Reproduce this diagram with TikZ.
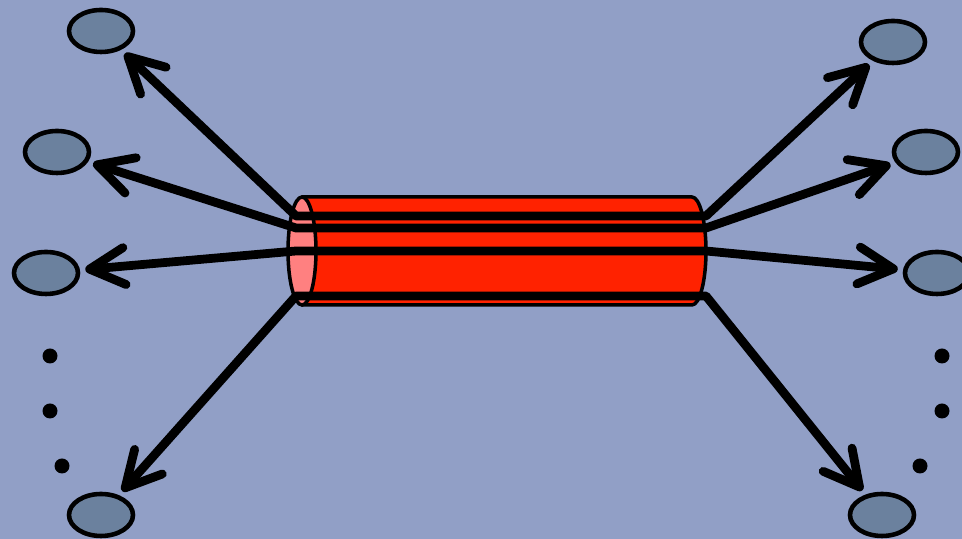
\documentclass[tikz,border=0pt]{standalone}
\usetikzlibrary{arrows.meta,shapes.geometric}
\definecolor{backdrop}{HTML}{919FC6}
\definecolor{pipe}{HTML}{FF2200}
\definecolor{pipeend}{HTML}{FF8080}
\definecolor{hostblue}{HTML}{6B819E}

\begin{document}
\begin{tikzpicture}[
  host/.style={ellipse,draw=black,line width=2.6pt,fill=hostblue,minimum width=1.28cm,minimum height=0.84cm,inner sep=0pt},
  wire/.style={line width=5pt,line join=round,
    {Straight Barb[length=7mm,width=7.4mm,round]}-{Straight Barb[length=7mm,width=7.4mm,round]},
    shorten <=3pt,shorten >=3pt},
  more/.style={circle,fill=black,inner sep=0pt,minimum size=0.3cm}
]
  \fill[backdrop] (0,0) rectangle (19.24,10.78);
  \useasboundingbox (0,0) rectangle (19.24,10.78);

  % Left: hosts
  \node[host] (e1) at (2.02,10.16) {};
  \node[host] (e2) at (1.14,7.74) {};
  \node[host] (e3) at (0.92,5.32) {};
  \node[host] (e4) at (2.02,0.48) {};
  \node[more] (dl1) at (1.0,3.66) {};
  \node[more] (dl2) at (1.0,2.56) {};
  \node[more] (dl3) at (1.24,1.46) {};

  % Right: hosts
  \node[host] (f1) at (17.86,9.94) {};
  \node[host] (f2) at (18.52,7.74) {};
  \node[host] (f3) at (18.74,5.32) {};
  \node[host] (f4) at (17.64,0.48) {};
  \node[more] (dr1) at (18.84,3.66) {};
  \node[more] (dr2) at (18.84,2.56) {};
  \node[more] (dr3) at (18.4,1.46) {};

  % The pipe
  \filldraw[fill=pipe,draw=black,line width=2pt,line join=round]
    (6.04,6.84) -- (13.84,6.84) arc[start angle=90,end angle=-90,x radius=0.28,y radius=1.08]
    -- (6.04,4.68) -- cycle;
  \filldraw[fill=pipeend,draw=black,line width=2pt] (6.04,5.76) ellipse[x radius=0.28,y radius=1.08];

  % Wire ends at both sides of the pipe
  \coordinate (l1) at (5.92,6.46);
  \coordinate (l2) at (5.92,6.22);
  \coordinate (l3) at (5.92,5.76);
  \coordinate (l4) at (5.92,4.86);
  \coordinate (r1) at (14.12,6.46);
  \coordinate (r2) at (14.12,6.22);
  \coordinate (r3) at (14.12,5.76);
  \coordinate (r4) at (14.12,4.86);

  % Wires
  \draw[wire] (e1) -- (l1) -- (r1) -- (f1);
  \draw[wire] (e2) -- (l2) -- (r2) -- (f2);
  \draw[wire] (e3) -- (l3) -- (r3) -- (f3);
  \draw[wire] (e4) -- (l4) -- (r4) -- (f4);
\end{tikzpicture}
\end{document}
